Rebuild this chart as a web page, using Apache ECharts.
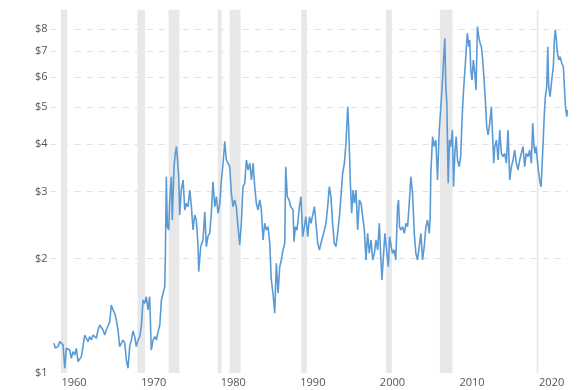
<!DOCTYPE html>
<html>
<head>
<meta charset="utf-8">
<script src="https://cdn.jsdelivr.net/npm/echarts@6/dist/echarts.min.js"></script>
<style>html,body{margin:0;padding:0;background:#fff;}#c{width:585px;height:390px;}</style>
</head>
<body>
<div id="c"></div>
<script>
const years = [
1959.44,1959.60,1959.94,1960.16,1960.37,1960.58,1960.79,1960.99,1961.20,1961.42,1961.62,1961.83,1962.04,1962.25,1962.46,1962.67,1962.87,1963.08,1963.30,1963.50,1963.71,1963.92,1964.13,1964.35,1964.56,1964.76,1964.97,1965.19,1965.39,1965.60,1965.81,1966.01,1966.23,1966.44,1966.64,1966.85,1967.07,1967.27,1967.48,1967.69,1967.90,1968.12,1968.33,1968.53,1968.74,1968.96,1969.16,1969.37,
1969.58,1969.78,1970.00,1970.21,1970.41,1970.62,1970.84,1971.04,1971.25,1971.46,1971.66,1971.89,1972.10,1972.30,1972.51,1972.73,1972.93,1973.14,1973.35,1973.43,1973.55,1973.68,1973.85,1973.98,1974.18,1974.30,1974.52,1974.68,1974.81,1974.93,1975.11,1975.23,1975.43,1975.66,1975.87,1976.07,1976.28,1976.50,1976.70,1976.91,1977.12,1977.32,1977.54,1977.62,1977.87,1978.16,1978.38,1978.58,1978.79,1979.00,1979.20,1979.41,
1979.64,1979.84,1980.05,1980.27,1980.47,1980.68,1980.89,1981.09,1981.30,1981.52,1981.72,1981.93,1982.14,1982.34,1982.56,1982.77,1982.97,1983.18,1983.40,1983.61,1983.82,1984.04,1984.24,1984.45,1984.66,1984.86,1985.07,1985.29,1985.49,1985.70,1985.91,1986.11,1986.33,1986.54,1986.74,1986.95,1987.17,1987.37,1987.59,1987.80,1988.00,1988.21,1988.43,1988.55,1988.75,1988.97,1989.18,1989.47,
1989.59,1989.76,1989.97,1990.27,1990.47,1990.68,1990.89,1991.09,1991.32,1991.53,1991.73,1991.94,1992.15,1992.35,1992.57,1992.78,1992.98,1993.19,1993.41,1993.61,1993.82,1994.03,1994.23,1994.44,1994.65,1994.86,1995.07,1995.29,1995.49,1995.70,1995.92,1996.12,1996.34,1996.46,1996.67,1996.84,1997.01,1997.18,1997.38,1997.59,1997.80,1998.01,1998.22,1998.43,1998.63,
1998.84,1999.05,1999.27,1999.48,1999.69,1999.89,2000.10,2000.31,2000.51,2000.64,2000.85,2001.01,2001.22,2001.44,2001.60,2001.81,2001.97,2002.18,2002.38,2002.60,2002.72,2002.85,2003.01,2003.23,2003.45,2003.65,2003.86,2004.07,2004.27,2004.48,2004.70,2004.90,2005.11,2005.32,2005.53,2005.74,2005.95,2006.16,2006.37,2006.58,2006.70,2006.78,2006.90,2007.00,2007.21,2007.41,2007.62,2007.84,2008.04,2008.25,2008.38,2008.54,2008.66,2008.79,2008.96,2009.12,2009.28,2009.50,
2009.63,2009.80,2009.97,2010.13,2010.34,2010.53,2010.70,2010.82,2010.95,2011.12,2011.25,2011.37,2011.55,2011.67,2011.80,2011.96,2012.12,2012.30,2012.46,2012.63,2012.80,2012.97,2013.13,2013.30,2013.47,2013.63,2013.80,2013.97,2014.18,2014.38,2014.55,2014.68,2014.81,2015.02,2015.23,2015.44,2015.64,2015.85,2016.06,2016.27,2016.48,2016.69,2016.90,2017.11,2017.32,2017.52,2017.73,2017.95,2018.15,2018.36,2018.57,2018.77,2018.99,2019.20,2019.41,2019.58,
2019.75,2019.87,2020.00,2020.16,2020.34,2020.51,2020.63,2020.75,2020.92,2021.04,2021.17,2021.34,2021.47,2021.59,2021.76,2021.97,2022.17,2022.30,2022.42,2022.55,2022.68,2022.86,2023.02,2023.23,2023.43,2023.56,2023.69,2023.86,2023.94
];
const prices = [
1.197,1.163,1.173,1.209,1.221,1.185,1.029,1.161,1.173,1.149,1.093,1.138,1.115,1.161,1.071,1.060,1.104,1.173,1.258,1.234,1.209,1.246,1.221,1.258,1.246,1.234,1.297,1.337,1.351,1.297,1.258,1.297,1.284,1.364,1.509,1.464,1.435,1.378,1.297,1.173,1.161,1.221,1.197,1.082,1.029,1.18,1.221,1.29,
1.246,1.173,1.221,1.246,1.323,1.555,1.525,1.587,1.464,1.587,1.149,1.221,1.246,1.221,1.284,1.337,1.555,1.62,1.686,2.021,3.279,2.423,2.375,2.848,3.279,2.523,3.484,3.778,3.932,3.701,3.279,2.601,3.026,3.214,2.681,2.792,2.735,3.026,2.735,2.375,2.601,2.523,2.147,1.846,2.147,2.236,2.653,2.147,2.29,2.33,2.62,3.181,
2.735,2.906,2.628,2.792,3.214,3.556,4.053,3.628,3.666,3.484,2.966,2.735,2.848,2.735,2.423,2.169,2.474,3.087,3.151,3.628,3.415,3.556,3.214,3.556,3.087,2.792,2.681,2.848,2.681,2.236,2.474,2.375,2.423,2.192,1.755,1.62,1.435,1.942,1.62,1.902,1.981,2.105,2.192,3.484,2.906,2.848,2.735,2.681,
2.213,2.423,2.375,2.735,2.906,2.281,2.423,2.574,2.281,2.574,2.474,2.474,2.735,2.474,2.192,2.105,2.192,2.169,2.375,2.474,2.735,3.087,2.906,2.474,2.192,2.147,2.328,2.574,2.906,3.348,3.556,4.014,5.008,4.438,3.151,2.628,3.026,2.792,3.026,2.375,2.848,2.792,2.574,2.375,1.981,
2.328,2.063,2.236,1.981,2.063,2.236,2.105,2.474,1.981,1.755,2.063,2.328,2.105,1.902,2.281,2.147,2.063,2.105,1.981,2.735,2.848,2.423,2.375,2.423,2.328,2.474,2.423,2.792,3.279,2.966,2.328,2.063,1.981,2.147,2.328,1.981,2.147,2.423,2.523,2.328,2.574,3.348,3.778,4.177,3.932,4.095,3.214,4.35,5.008,5.887,6.645,7.576,5.653,5.113,3.151,4.095,3.932,4.35,
3.087,3.778,4.177,3.628,3.484,3.701,4.62,5.215,5.77,6.513,7.20,7.81,7.20,7.50,6.25,5.887,6.645,6.13,5.54,8.127,7.65,7.35,7.20,6.645,5.887,5.215,4.438,4.22,4.53,5.008,4.177,3.556,3.932,4.095,3.628,4.35,3.778,3.701,3.778,3.556,4.35,3.214,3.484,3.628,3.854,3.556,3.415,3.628,3.778,3.932,3.484,3.778,3.701,3.854,3.556,4.53,
3.932,3.778,3.932,3.628,3.348,3.151,3.087,3.484,4.177,4.81,5.32,5.653,7.20,5.653,5.32,5.887,6.38,7.50,7.966,7.50,6.919,6.645,6.78,6.513,6.38,5.653,5.008,4.714,4.909
];
const yearTicks = [1960, 1970, 1980, 1990, 2000, 2010, 2020];
const priceTicks = [1, 2, 3, 4, 5, 6, 7, 8];
const recessionStarts = [1960.30, 1969.92, 1973.84, 1980.00, 1981.50, 1990.50, 2001.17, 2007.92, 2020.08];
const recessionEnds   = [1961.10, 1970.88, 1975.20, 1980.50, 1982.88, 1991.20, 2001.88, 2009.50, 2020.30];

const chart = echarts.init(document.getElementById('c'), null, {renderer: 'canvas'});
const lnTicks = priceTicks.map(v => Math.log(v));
const data = years.map((y, i) => [y, Math.log(prices[i])]);
const bands = recessionStarts.map((s, i) => [{xAxis: s}, {xAxis: recessionEnds[i]}]);
const font = '"Open Sans", "Liberation Sans", sans-serif';

chart.setOption({
  animation: false,
  backgroundColor: '#fff',
  grid: {left: 50.5, right: 17.1, top: 9.8, bottom: 17, containLabel: false},
  xAxis: {
    type: 'value', min: 1959, max: 2024,
    axisLine: {show: false}, axisTick: {show: false}, splitLine: {show: false},
    axisLabel: {
      customValues: yearTicks, color: '#555', fontSize: 11, fontFamily: font,
      margin: 4, align: 'left', padding: [0, 0, 0, 3],
      formatter: v => String(Math.round(v))
    }
  },
  yAxis: {
    type: 'value', min: 0, max: Math.log(9),
    axisLine: {show: false},
    axisTick: {show: false, customValues: lnTicks.slice(1)},
    splitLine: {show: true, lineStyle: {color: '#e2e2e2', type: [6, 6], width: 1}},
    axisLabel: {
      customValues: lnTicks, color: '#555', fontSize: 11, fontFamily: font, margin: 3,
      formatter: v => '$' + Math.round(Math.exp(v))
    }
  },
  series: [{
    type: 'line', data: data, showSymbol: false, smooth: false,
    lineStyle: {color: '#5b9bd5', width: 1.6},
    itemStyle: {color: '#5b9bd5'},
    markArea: {silent: true, itemStyle: {color: '#e8e8e8'}, data: bands},
    z: 3
  }]
});
</script>
</body>
</html>
